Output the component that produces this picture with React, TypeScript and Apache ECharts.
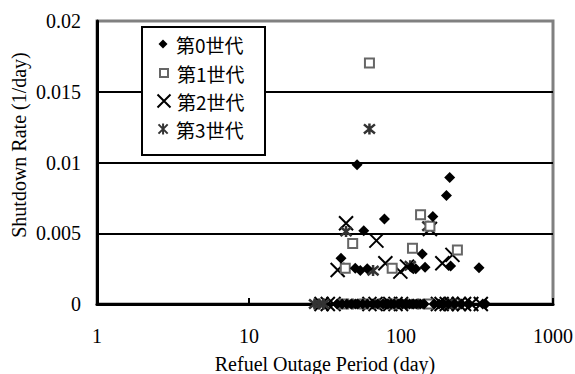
import React, { useEffect, useRef } from "react";
import * as echarts from "echarts";

const seriesNames = ["第0世代", "第1世代", "第2世代", "第3世代"];

const gen0: [number, number][] = [
  [51.4, 0.00984], [209, 0.00894], [199, 0.00767], [162, 0.00618], [77.8, 0.006],
  [56.9, 0.00517], [138, 0.00354], [212, 0.00269], [326, 0.00257], [40.3, 0.00323],
  [50, 0.00253], [54, 0.00236], [117, 0.0026], [144, 0.0026], [125, 0.0025], [60, 0.0025],
  [38, 0], [41, 0], [44, 0], [47, 0], [50, 0], [52, 0], [56, 0], [60, 0], [65, 0], [70, 0],
  [76, 0], [80, 0], [82, 0], [86, 0], [90, 0], [96, 0], [102, 0], [108, 0], [114, 0],
  [120, 0], [126, 0], [134, 0], [142, 0], [165, 0], [178, 0], [190, 0], [205, 0], [225, 0],
  [250, 0], [280, 0], [345, 0], [360, 0],
];
const gen1: [number, number][] = [
  [62, 0.01704], [134.5, 0.0063], [155, 0.0055], [48.1, 0.00427], [119, 0.00394],
  [235, 0.00382], [43, 0.00253], [87.5, 0.00253],
  [42, 0], [57, 0], [88, 0], [152, 0],
];
const gen2: [number, number][] = [
  [43.5, 0.00571], [155, 0.0053], [68.9, 0.00448], [218, 0.00347], [187, 0.00288],
  [38.3, 0.0024], [78.9, 0.00288], [99, 0.00229], [109.5, 0.00264],
  [30, 0], [33, 0], [36, 0], [62, 0], [68, 0], [85, 0], [92, 0], [100, 0], [175, 0],
  [185, 0], [200, 0], [215, 0], [240, 0], [260, 0], [290, 0], [335, 0],
];
const gen3: [number, number][] = [
  [62, 0.01237], [43.5, 0.00512], [65.5, 0.00236], [150, 0.0055], [115, 0.0027],
  [27, 0], [29, 0], [31, 0], [48, 0], [72, 0], [110, 0], [130, 0], [205, 0], [230, 0],
];

const xTickLabels = ["1", "10", "100", "1000"];
const yTickLabels = ["0", "0.005", "0.01", "0.015", "0.02"];

const serif = "'Liberation Serif', 'Times New Roman', serif";
const cjk = "'Noto Sans CJK JP', 'Noto Sans', sans-serif";

const xPath = "path://M0,0L10,10M10,0L0,10";
const starPath = "path://M0,0L10,10M10,0L0,10M5,-1L5,11";

// legend icon sizes per row and row centres
const legendIconSizes = [9, 8, 13, 11];
const legendRowCenters = [44, 73, 101, 129];

export default function App() {
  const ref = useRef<HTMLDivElement>(null);
  useEffect(() => {
    if (!ref.current) return;
    const chart = echarts.init(ref.current, undefined, { renderer: "svg" });
    const legends = seriesNames.map((name, i) => {
      const w = legendIconSizes[i];
      return {
        orient: "vertical",
        left: 163 - w / 2,
        top: legendRowCenters[i] - 10,
        itemWidth: w,
        itemHeight: w,
        padding: 0,
        z: 5,
        textStyle: {
          color: "#000",
          fontFamily: cjk,
          fontSize: 19,
          lineHeight: 20,
          padding: [0, 0, 0, 8 - w / 2],
        },
        data: [name],
      };
    });
    chart.setOption({
      animation: false,
      backgroundColor: "#fff",
      grid: {
        left: 97,
        right: 22,
        top: 21,
        bottom: 70,
        show: true,
        containLabel: false,
        outerBoundsMode: "none",
        borderColor: "#808080",
        borderWidth: 3,
        backgroundColor: "transparent",
      },
      xAxis: {
        type: "log",
        logBase: 10,
        min: 1,
        max: 1000,
        axisLine: { show: true, onZero: false, lineStyle: { color: "#000", width: 3 } },
        axisTick: { show: true, inside: true, length: 6, lineStyle: { color: "#000", width: 2 } },
        minorTick: { show: false },
        splitLine: { show: false },
        axisLabel: {
          color: "#000",
          fontFamily: serif,
          fontSize: 20,
          margin: 22,
          formatter: (v: number) => xTickLabels[Math.round(Math.log10(v))] ?? String(v),
        },
        name: "Refuel Outage Period (day)",
        nameLocation: "middle",
        nameGap: 50,
        nameTextStyle: { color: "#000", fontFamily: serif, fontSize: 20 },
      },
      yAxis: {
        type: "value",
        min: 0,
        max: 0.02,
        interval: 0.005,
        axisLine: { show: true, lineStyle: { color: "#000", width: 3 } },
        axisTick: { show: false },
        splitLine: {
          show: true,
          showMinLine: false,
          showMaxLine: false,
          lineStyle: { color: "#000", width: 2 },
        },
        axisLabel: {
          color: "#000",
          fontFamily: serif,
          fontSize: 20,
          margin: 16,
          formatter: (v: number) => yTickLabels[Math.round(v / 0.005)] ?? String(v),
        },
      },
      legend: legends,
      graphic: [
        {
          type: "rect",
          z: 3,
          shape: { x: 142, y: 27, width: 123, height: 128 },
          style: { fill: "#fff", stroke: "#000", lineWidth: 2 },
        },
        {
          type: "text",
          z: 3,
          x: 19,
          y: 145,
          rotation: Math.PI / 2,
          style: {
            text: "Shutdown Rate (1/day)",
            fontFamily: serif,
            fontSize: 20,
            fill: "#000",
            align: "center",
            verticalAlign: "middle",
          },
        },
      ],
      series: [
        {
          name: seriesNames[2],
          type: "scatter",
          clip: false,
          symbol: xPath,
          symbolSize: 14,
          itemStyle: { color: "transparent", borderColor: "#000", borderWidth: 2, opacity: 1 },
          data: gen2,
          z: 2,
        },
        {
          name: seriesNames[3],
          type: "scatter",
          clip: false,
          symbol: starPath,
          symbolSize: 11,
          itemStyle: { color: "transparent", borderColor: "#333", borderWidth: 2.5, opacity: 1 },
          data: gen3,
          z: 2,
        },
        {
          name: seriesNames[1],
          type: "scatter",
          clip: false,
          symbol: "rect",
          symbolSize: 9,
          itemStyle: { color: "#fff", borderColor: "#666", borderWidth: 2, opacity: 1 },
          data: gen1,
          z: 2,
        },
        {
          name: seriesNames[0],
          type: "scatter",
          clip: false,
          symbol: "diamond",
          symbolSize: 11,
          itemStyle: { color: "#000", opacity: 1 },
          data: gen0,
          z: 2,
        },
      ],
    });
    return () => chart.dispose();
  }, []);
  return (
    <div
      ref={ref}
      style={{ position: "absolute", left: 0, top: 0, width: 575, height: 374 }}
    />
  );
}
